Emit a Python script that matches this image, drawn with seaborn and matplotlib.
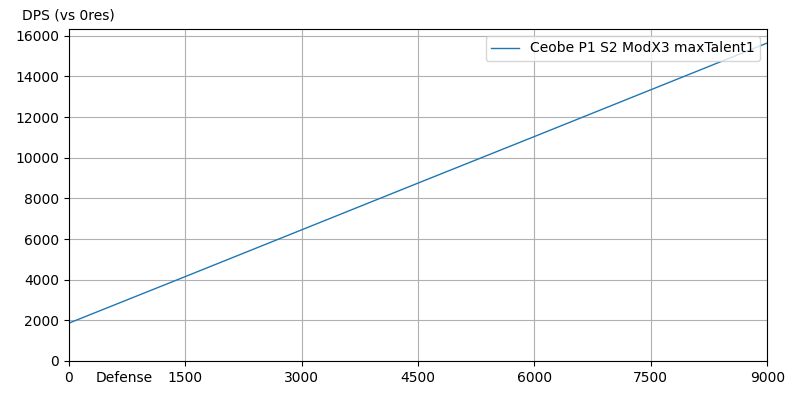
import matplotlib
matplotlib.use("Agg")
import matplotlib.pyplot as plt
import seaborn as sns
import pandas as pd

# valores
defense = [0, 1500, 3000, 4500, 6000, 7500, 9000]
dps = [1860, 4150, 6450, 8750, 11040, 13340, 15640]
label = 'Ceobe P1 S2 ModX3 maxTalent1'

dados = pd.DataFrame({'Defense': defense, 'DPS': dps})

fig = plt.figure(figsize=(8, 4), dpi=100)
ax = fig.add_axes([0.086, 0.0975, 0.873, 0.83])
sns.lineplot(data=dados, x='Defense', y='DPS', ax=ax, label=label,
             color='#1f77b4', linewidth=1)

ax.set_xlim(0, 9000)
ax.set_ylim(0, None)
ax.set_xticks(range(0, 9001, 1500))
ax.set_yticks(range(0, 16001, 2000))
ax.grid(True, color='#b0b0b0', linewidth=0.8)
ax.set_axisbelow(True)

ax.set_xlabel('Defense')
ax.xaxis.set_label_coords(0.08, -0.029)
ax.set_ylabel('DPS (vs 0res)', rotation=0)
ax.yaxis.set_label_coords(0.0, 1.02)

ax.legend(loc='upper right')
fig.savefig('out.png', dpi=100)
